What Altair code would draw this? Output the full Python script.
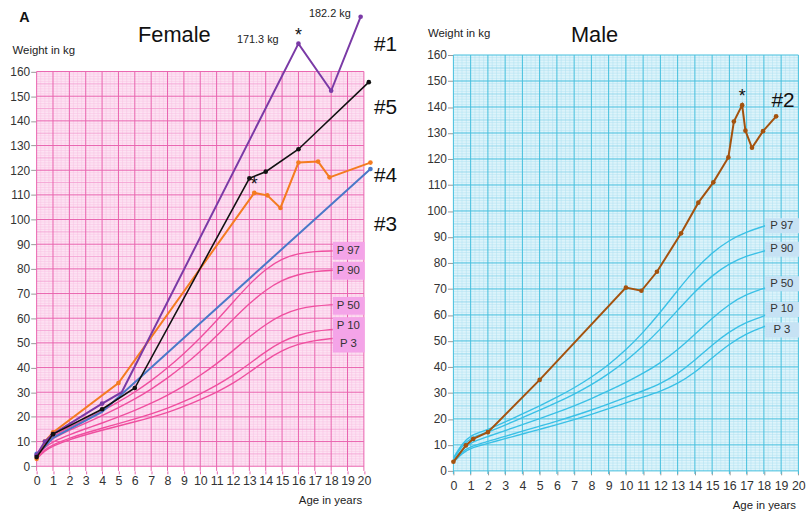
import altair as alt
import pandas as pd
import numpy as np

FONT = "Liberation Sans"

# ---------------- reference percentiles (weight in kg) ----------------
f_age = [0, 0.5, 1, 2, 3, 4, 5, 6, 7, 8, 9, 10, 11, 12, 13, 14, 15, 16, 17, 18.1]
f_p3 = [3.0, 6.3, 8.3, 10.8, 12.8, 14.6, 16.3, 18.0, 19.8, 21.8, 24.2, 27.0, 30.0, 33.5, 38.0, 43.0, 47.0, 49.6, 51.0, 51.8]
f_p10 = [3.3, 6.8, 8.8, 11.4, 13.5, 15.4, 17.3, 19.2, 21.2, 23.5, 26.2, 29.3, 32.8, 36.8, 41.5, 46.5, 50.6, 53.3, 54.8, 55.5]
f_p50 = [3.8, 7.8, 10.0, 12.8, 15.2, 17.5, 20.0, 22.6, 25.5, 28.8, 32.5, 36.8, 41.5, 46.8, 52.5, 57.5, 61.5, 63.9, 65.0, 65.5]
f_p90 = [4.3, 8.8, 11.4, 14.6, 17.5, 20.5, 23.7, 27.2, 31.2, 35.7, 40.8, 46.5, 52.8, 59.5, 66.0, 71.5, 75.5, 77.8, 79.0, 79.4]
f_p97 = [4.7, 9.5, 12.3, 15.8, 19.0, 22.4, 26.0, 30.0, 34.6, 39.8, 45.6, 52.0, 59.0, 66.5, 73.8, 80.0, 84.2, 86.3, 87.1, 87.3]

m_age = [0, 0.5, 1, 2, 3, 4, 5, 6, 7, 8, 9, 10, 11, 12, 13, 14, 15, 16, 17, 18.08]
m_p3 = [3.3, 6.8, 8.8, 10.6, 12.4, 14.2, 16.0, 17.8, 19.7, 21.7, 23.9, 26.2, 28.4, 30.6, 33.5, 37.8, 43.5, 48.8, 53.0, 55.7]
m_p10 = [3.5, 7.3, 9.5, 11.3, 13.3, 15.3, 17.2, 19.1, 21.2, 23.4, 25.8, 28.3, 30.8, 33.5, 37.3, 42.5, 48.5, 53.6, 57.3, 59.8]
m_p50 = [4.0, 8.3, 11.0, 13.2, 15.5, 17.8, 20.1, 22.5, 25.0, 27.8, 30.8, 34.0, 37.5, 41.5, 46.5, 52.5, 58.8, 64.2, 68.0, 70.4]
m_p90 = [4.6, 9.6, 12.8, 14.9, 17.6, 20.5, 23.3, 26.3, 29.5, 33.1, 37.3, 42.2, 48.0, 54.5, 61.8, 69.0, 75.2, 79.8, 82.8, 84.7]
m_p97 = [5.0, 10.4, 13.8, 15.8, 18.8, 21.9, 25.0, 28.3, 31.9, 36.0, 40.8, 46.5, 53.2, 61.0, 69.5, 77.5, 84.0, 88.8, 92.0, 94.3]

pct_names = ["P 3", "P 10", "P 50", "P 90", "P 97"]
f_box_center = [49.7, 56.8, 65.0, 79.2, 87.3]
m_box_center = [54.2, 62.1, 72.0, 85.3, 94.3]

# ---------------- patients ----------------
p1_age = [0, 0.5, 1, 4, 5.2, 16, 18, 19.8]
p1_wt = [4.5, 10.0, 13.0, 25.4, 30.0, 171.3, 152.2, 182.2]
p1_mark = [1, 1, 1, 1, 0, 1, 1, 1]

p5_age = [0, 1, 4, 6, 13, 14, 16, 20.3]
p5_wt = [3.7, 13.0, 23.1, 31.7, 116.7, 119.4, 128.5, 155.7]

p4_age = [0, 0.5, 1, 5, 13.3, 14.1, 14.9, 16, 17.2, 17.9, 20.4]
p4_wt = [3.0, 10.0, 13.7, 33.7, 110.8, 109.8, 104.7, 123.1, 123.5, 117.1, 123.1]

p3_age = [0, 0.5, 1, 2, 4, 20.4]
p3_wt = [5.0, 8.0, 11.5, 15.0, 22.0, 120.5]
p3_mark = [1, 0, 0, 0, 0, 1]

p2_age = [0, 0.72, 1.15, 2, 5, 10, 10.9, 11.8, 13.2, 14.2, 15.07, 15.94, 16.26, 16.74, 16.93, 17.31, 17.95, 18.71]
p2_wt = [3.5, 9.8, 12.3, 14.9, 35.0, 70.5, 69.3, 76.6, 91.4, 103.2, 111.0, 120.6, 134.4, 140.7, 130.9, 124.3, 130.7, 136.4]

female_tags = ["#1", "#5", "#4", "#3"]
female_tag_y = [170.8, 145.1, 117.8, 97.7]

# ---------------- geometry of the two panels ----------------
F_W, M_W, H = 330.5, 348.4, 420
F_YDOM = [-1.887, 166.70]
M_YDOM = [0, 160]

PINK_BG, PINK_MINOR, PINK_MID, PINK_MAJOR = "#fde3f3", "#f8bfe2", "#f29bd0", "#e962ae"
PINK_CURVE, PINK_BOX = "#ef4f9f", "#f4a4e8"
CYAN_BG, CYAN_MINOR, CYAN_MID, CYAN_MAJOR = "#def4fb", "#aee0f0", "#86d2ea", "#43bedd"
CYAN_CURVE, CYAN_BOX = "#3ac0e6", "#c6e2f4"


def grid_frames(y_bottom):
    minor_v = [v for v in np.arange(0.25, 20, 0.25) if abs(v - round(v)) > 1e-6]
    major_v = list(range(0, 21))
    minor_h = [v for v in range(1, 160) if v % 5 != 0]
    mid_h = [v for v in range(5, 160, 10)]
    major_h = list(range(0, 161, 10))
    return (
        pd.DataFrame({"x": minor_v, "y": 0, "y2": 160}),
        pd.DataFrame({"x": major_v, "y": y_bottom, "y2": 160}),
        pd.DataFrame({"y": minor_h, "x": 0, "x2": 20}),
        pd.DataFrame({"y": mid_h, "x": 0, "x2": 20}),
        pd.DataFrame({"y": major_h, "x": 0, "x2": 20}),
    )


def curves_frame(ages, series):
    rows = []
    for name, vals in zip(pct_names, series):
        for a, w in zip(ages, vals):
            rows.append({"age": a, "wt": w, "pct": name})
    return pd.DataFrame(rows)


def panel(ydom, bg, c_minor, c_mid, c_major, curve_col, box_col,
          ages, series, box_centers, box_half, box_x0, x_tick_col, x_tick, x_label_pad, y_bottom):
    xs = alt.Scale(domain=[0, 20], nice=False, zero=False)
    ys = alt.Scale(domain=ydom, nice=False, zero=False)
    xax = alt.Axis(values=list(range(0, 21)), title=None, grid=False, domain=False,
                   labelFont=FONT, labelFontSize=12.5, labelColor="#333333",
                   tickColor=x_tick_col, tickSize=x_tick, labelPadding=x_label_pad, labelFlush=False)
    yax = alt.Axis(values=list(range(0, 161, 10)), title=None, grid=False, domain=False,
                   labelFont=FONT, labelFontSize=12, labelColor="#333333",
                   tickColor="#999999", tickSize=6, labelPadding=1)

    def X(f):
        return alt.X(f, type="quantitative", scale=xs, axis=xax)

    def Y(f):
        return alt.Y(f, type="quantitative", scale=ys, axis=yax)

    minor_v, major_v, minor_h, mid_h, major_h = grid_frames(y_bottom)

    bgd = pd.DataFrame({"x": [0], "x2": [20], "y": [0], "y2": [160]})
    layers = [
        alt.Chart(bgd).mark_rect(color=bg).encode(x=X("x"), x2="x2", y=Y("y"), y2="y2"),
        alt.Chart(minor_h).mark_rule(color=c_minor, strokeWidth=0.5).encode(x=X("x"), x2="x2", y=Y("y")),
        alt.Chart(minor_v).mark_rule(color=c_minor, strokeWidth=0.5).encode(x=X("x"), y=Y("y"), y2="y2"),
        alt.Chart(mid_h).mark_rule(color=c_mid, strokeWidth=0.8).encode(x=X("x"), x2="x2", y=Y("y")),
        alt.Chart(major_h).mark_rule(color=c_major, strokeWidth=1).encode(x=X("x"), x2="x2", y=Y("y")),
        alt.Chart(major_v).mark_rule(color=c_major, strokeWidth=1).encode(x=X("x"), y=Y("y"), y2="y2"),
        alt.Chart(curves_frame(ages, series)).mark_line(
            color=curve_col, strokeWidth=1.4, interpolate="basis"
        ).encode(x=X("age"), y=Y("wt"), detail="pct:N"),
    ]
    boxes = pd.DataFrame({
        "name": pct_names,
        "yc": box_centers,
        "y0": [c - box_half for c in box_centers],
        "y1": [c + box_half for c in box_centers],
        "x0": box_x0, "x1": 20.05, "xc": (box_x0 + 20.0) / 2,
    })
    layers.append(alt.Chart(boxes).mark_rect(color=box_col).encode(x=X("x0"), x2="x1", y=Y("y0"), y2="y1"))
    layers.append(alt.Chart(boxes).mark_text(font=FONT, fontSize=11.5, color="#333333").encode(
        x=X("xc"), y=Y("yc"), text="name:N"))
    return layers, X, Y


def patient(X, Y, ages, wts, color, width, marks=None, size=22):
    df = pd.DataFrame({"age": ages, "wt": wts, "m": marks if marks is not None else [1] * len(ages)})
    line = alt.Chart(df).mark_line(color=color, strokeWidth=width, clip=False).encode(x=X("age"), y=Y("wt"))
    pts = alt.Chart(df).transform_filter("datum.m == 1").mark_circle(
        color=color, size=size, opacity=1, clip=False).encode(x=X("age"), y=Y("wt"))
    return [line, pts]


def label(text, x, y, size, weight="normal", align="center", baseline="middle", color="#111111"):
    return alt.Chart(pd.DataFrame({"t": [text]})).mark_text(
        font=FONT, fontSize=size, fontWeight=weight, align=align, baseline=baseline, color=color
    ).encode(x=alt.value(x), y=alt.value(y), text="t:N")


# ---------------- Female panel ----------------
f_layers, FX, FY = panel(F_YDOM, PINK_BG, PINK_MINOR, PINK_MID, PINK_MAJOR, PINK_CURVE, PINK_BOX,
                         f_age, [f_p3, f_p10, f_p50, f_p90, f_p97], f_box_center, 3.6, 18.1,
                         PINK_MAJOR, 3, 1, F_YDOM[0])
f_layers += patient(FX, FY, p3_age, p3_wt, "#4a78c8", 2.0, p3_mark)
f_layers += patient(FX, FY, p4_age, p4_wt, "#f47b20", 2.0)
f_layers += patient(FX, FY, p1_age, p1_wt, "#7a3aa6", 2.0, p1_mark)
f_layers += patient(FX, FY, p5_age, p5_wt, "#111111", 1.6)

f_notes = pd.DataFrame({
    "age": [16, 19.8, 16, 13.3],
    "wt": [171.3, 182.2, 171.3, 110.8],
    "t": ["171.3 kg", "182.2 kg", "*", "*"],
    "dx": [-20, -10, 0, 0],
    "dy": [-4, -3, -8, -8],
})
for i in range(2):
    r = f_notes.iloc[[i]]
    f_layers.append(alt.Chart(r).mark_text(font=FONT, fontSize=11, align="right", color="#222222",
                                           dx=int(r.dx.iloc[0]), dy=int(r.dy.iloc[0]), clip=False)
                    .encode(x=FX("age"), y=FY("wt"), text="t:N"))
for i in range(2, 4):
    r = f_notes.iloc[[i]]
    f_layers.append(alt.Chart(r).mark_text(font=FONT, fontSize=18, align="center", color="#111111",
                                           dy=int(r.dy.iloc[0]), clip=False)
                    .encode(x=FX("age"), y=FY("wt"), text="t:N"))

tags = pd.DataFrame({"t": female_tags, "wt": female_tag_y, "age": 20.62})
f_layers.append(alt.Chart(tags).mark_text(font=FONT, fontSize=21, align="left", color="#111111", clip=False)
                .encode(x=FX("age"), y=FY("wt"), text="t:N"))

# anchor for the page's top-left corner
f_layers.append(alt.Chart(pd.DataFrame({"a": [0]})).mark_rect(opacity=0).encode(
    x=alt.value(-36.3), x2=alt.value(-35.3), y=alt.value(-53), y2=alt.value(-52)))
f_layers.append(label("A", -12.3, -37, 14.5, weight="bold"))
f_layers.append(label("Female", 139, -19.7, 22))
f_layers.append(label("Weight in kg", -24.3, -4, 11.5, align="left", color="#222222"))
f_layers.append(label("Age in years", 328.7, 450.5, 11.5, align="right", color="#222222"))

female = alt.layer(*f_layers).properties(width=F_W, height=H)

# ---------------- Male panel ----------------
m_layers, MX, MY = panel(M_YDOM, CYAN_BG, CYAN_MINOR, CYAN_MID, CYAN_MAJOR, CYAN_CURVE, CYAN_BOX,
                         m_age, [m_p3, m_p10, m_p50, m_p90, m_p97], m_box_center, 2.9, 18.08,
                         "#999999", 4, 5, -1.2)
m_layers += patient(MX, MY, p2_age, p2_wt, "#a4520e", 2.0)
m_star = pd.DataFrame({"age": [16.74], "wt": [140.7], "t": ["*"]})
m_layers.append(alt.Chart(m_star).mark_text(font=FONT, fontSize=18, color="#111111", dy=-8, clip=False)
                .encode(x=MX("age"), y=MY("wt"), text="t:N"))
m_tag = pd.DataFrame({"t": ["#2"], "age": [18.44], "wt": [142.1]})
m_layers.append(alt.Chart(m_tag).mark_text(font=FONT, fontSize=21, align="left", color="#111111", clip=False)
                .encode(x=MX("age"), y=MY("wt"), text="t:N"))
m_layers.append(label("Male", 142.5, -19.7, 22))
m_layers.append(label("Weight in kg", -25.7, -21.3, 11.5, align="left", color="#222222"))
m_layers.append(label("Age in years", 346, 456, 11.5, align="right", color="#222222"))

male = alt.layer(*m_layers).properties(width=M_W, height=H)

chart = alt.hconcat(female, male, spacing=89.9, bounds="flush").properties(
    padding=0, background="white"
).configure_view(stroke=None)

chart.save("out.html", embed_options={"renderer": "svg", "actions": False})
